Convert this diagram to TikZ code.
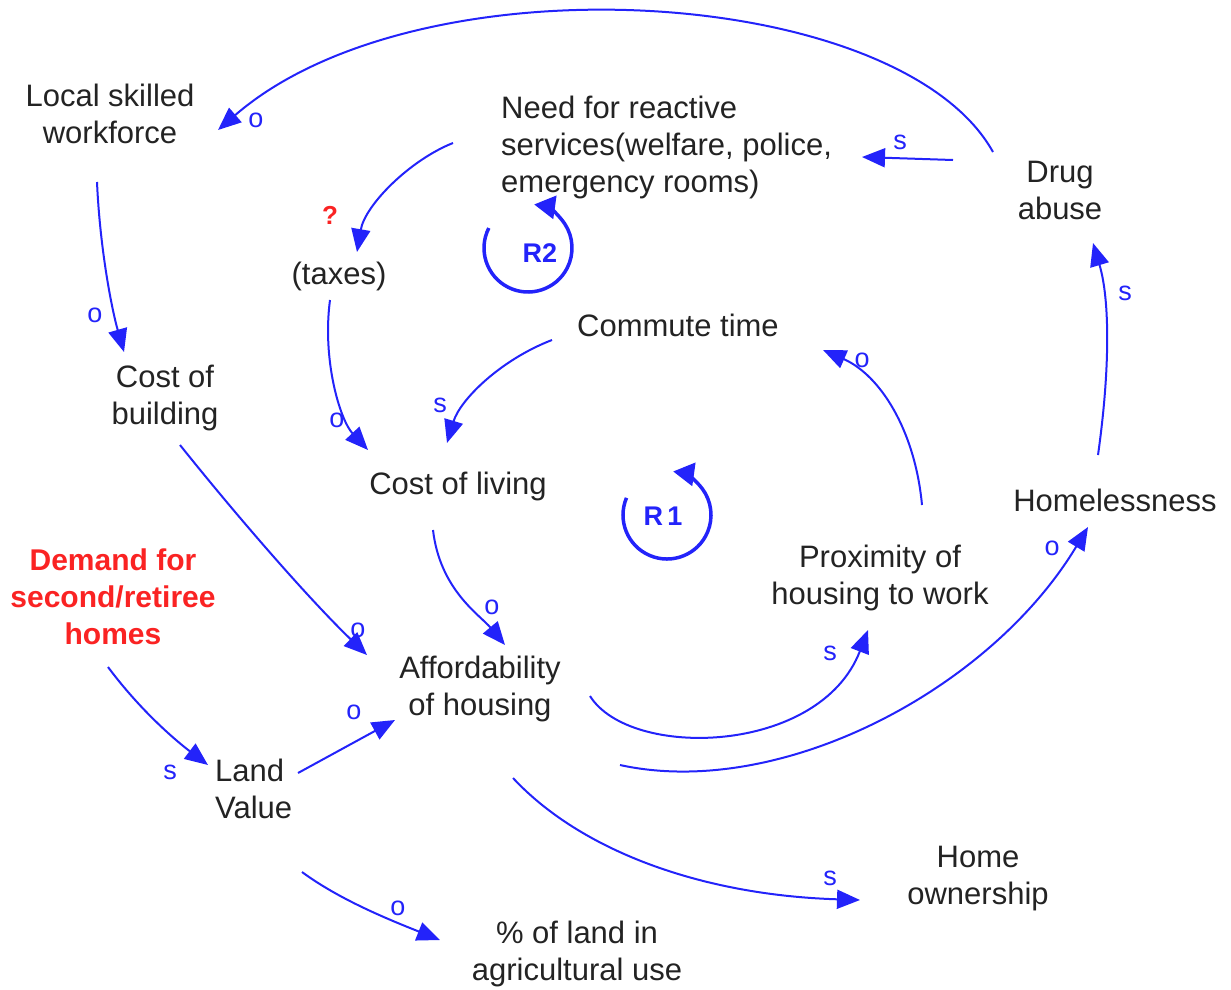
\documentclass[tikz,border=0pt]{standalone}
\usepackage{fontspec}
\setmainfont{Liberation Sans}
\usetikzlibrary{arrows.meta}
\definecolor{linkblue}{RGB}{35,35,250}
\definecolor{txt}{RGB}{35,35,35}
\definecolor{hot}{RGB}{250,35,35}
\begin{document}
\begin{tikzpicture}[x=1pt,y=-1pt,
  var/.style={font=\fontsize{31}{37}\selectfont, align=center, text=txt, inner sep=0pt},
  hotvar/.style={var, text=hot, font=\bfseries\fontsize{30}{37}\selectfont},
  link/.style={draw=linkblue, line width=2pt, -{Triangle[length=23pt,width=19pt]}},
  loopar/.style={draw=linkblue, line width=3.5pt, -{Triangle[length=21pt,width=23pt]}},
  pol/.style={font=\fontsize{27}{27}\selectfont, text=linkblue, inner sep=0pt},
  looplbl/.style={font=\bfseries\fontsize{27}{27}\selectfont, text=linkblue, inner sep=0pt},
]
\useasboundingbox (0,0) rectangle (1231,989);

% variables
\node[var] (lsw) at (110,114) {Local skilled\\workforce};
\node[var, align=left, anchor=west] (need) at (501,147) {Need for reactive\\services(welfare, police,\\emergency rooms)};
\node[var] (drug) at (1060,190) {Drug\\abuse};
\node[var] (taxes) at (339,276) {(taxes)};
\node[var] (commute) at (678,325) {Commute time};
\node[var] (cob) at (165,398) {Cost of\\building};
\node[var] (col) at (458,486) {Cost of living};
\node[var] (home) at (1115,500) {Homelessness};
\node[var] (prox) at (880,578) {Proximity of\\housing to work};
\node[hotvar] (demand) at (113,597) {Demand for\\second/retiree\\homes};
\node[var] (aff) at (480,689) {Affordability\\of housing};
\node[var, align=left, anchor=west] (land) at (215,789) {Land\\Value};
\node[var] (own) at (978,879) {Home\\ownership};
\node[var] (agri) at (577,954) {\% of land in\\agricultural use};

% causal links
\draw[link] ([shift={(-67,-38)}]drug.center) .. controls (900,-15) and (420,-45) .. ([shift={(108,16)}]lsw.center);
\draw[link] ([shift={(-107,-30)}]drug.center) -- ([shift={(361,10)}]need.west);
\draw[link] ([shift={(-48,-4)}]need.west) .. controls (410,160) and (365,205) .. ([shift={(18,-24)}]taxes.center);
\draw[link] ([shift={(-13,68)}]lsw.center) .. controls (100,250) and (112,310) .. ([shift={(-41,-46)}]cob.center);
\draw[link] ([shift={(-9,24)}]taxes.center) .. controls (322,360) and (340,420) .. ([shift={(-90,-36)}]col.center);
\draw[link] ([shift={(-126,15)}]commute.center) .. controls (500,360) and (460,400) .. ([shift={(-11,-43)}]col.center);
\draw[link] ([shift={(15,47)}]cob.center) .. controls (240,520) and (310,600) .. ([shift={(-113,-34)}]aff.center);
\draw[link] ([shift={(-25,44)}]col.center) .. controls (440,590) and (480,615) .. ([shift={(25,-44)}]aff.center);
\draw[link] ([shift={(-5,70)}]demand.center) .. controls (140,710) and (175,740) .. ([shift={(-7,-24)}]land.west);
\draw[link] ([shift={(83,-16)}]land.west) -- ([shift={(-85,31)}]aff.center);
\draw[link] ([shift={(110,7)}]aff.center) .. controls (630,760) and (820,755) .. ([shift={(-12,52)}]prox.center);
\draw[link] ([shift={(140,76)}]aff.center) .. controls (780,800) and (990,690) .. ([shift={(-27,27)}]home.center);
\draw[link] ([shift={(42,-73)}]prox.center) .. controls (915,430) and (880,375) .. ([shift={(145,25)}]commute.center);
\draw[link] ([shift={(-17,-45)}]home.center) .. controls (1110,370) and (1110,300) .. ([shift={(33,53)}]drug.center);
\draw[link] ([shift={(33,89)}]aff.center) .. controls (580,850) and (700,895) .. ([shift={(-118,21)}]own.center);
\draw[link] ([shift={(87,83)}]land.west) .. controls (340,900) and (390,920) .. ([shift={(-137,-14)}]agri.center);

% link polarities
\node[pol] (p1) at (256,120) {o};
\node[pol] (p2) at (900,142) {s};
\node[pol, text=hot, font=\bfseries\fontsize{26}{26}\selectfont] (p3) at (330,215) {?};
\node[pol] (p4) at (95,315) {o};
\node[pol] (p5) at (337,420) {o};
\node[pol] (p6) at (440,405) {s};
\node[pol] (p7) at (358,630) {o};
\node[pol] (p8) at (492,607) {o};
\node[pol] (p9) at (170,772) {s};
\node[pol] (p10) at (354,712) {o};
\node[pol] (p11) at (830,653) {s};
\node[pol] (p12) at (1052,548) {o};
\node[pol] (p13) at (862,360) {o};
\node[pol] (p14) at (1125,293) {s};
\node[pol] (p15) at (830,878) {s};
\node[pol] (p16) at (398,908) {o};

% reinforcing loop markers
\node[looplbl] (r2) at (540,253) {R2};
\draw[loopar] (r2.center) ++(-12,-5) ++(207:44) arc[start angle=207, end angle=-82, radius=44];
\node[looplbl] (r1) at (663,516) {R\,1};
\draw[loopar] (r1.center) ++(4,-1) ++(203:44) arc[start angle=203, end angle=-82, radius=44];
\end{tikzpicture}
\end{document}
